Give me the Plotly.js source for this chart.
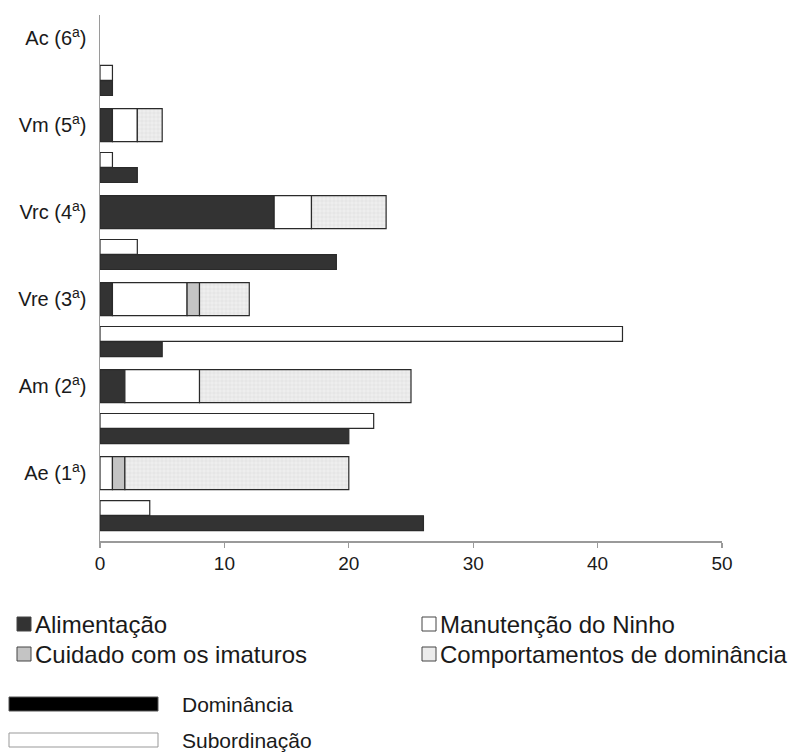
<!DOCTYPE html>
<html>
<head>
<meta charset="utf-8">
<script src="https://cdn.plot.ly/plotly-3.0.1.min.js"></script>
<style>html,body{margin:0;padding:0;background:#fff;}#chart{width:796px;height:756px;}</style>
</head>
<body>
<div id="chart"></div>
<script>
// ---- data (bottom to top) ----
var categories = ['Ae (1<sup>a</sup>)', 'Am (2<sup>a</sup>)', 'Vre (3<sup>a</sup>)', 'Vrc (4<sup>a</sup>)', 'Vm (5<sup>a</sup>)', 'Ac (6<sup>a</sup>)'];
var alimentacao    = [0, 2, 1, 14, 1, 0];
var manutencao     = [1, 6, 6, 3, 2, 0];
var cuidado        = [1, 0, 1, 0, 0, 0];
var comportamentos = [18, 17, 4, 6, 2, 0];
var dominancia     = [26, 20, 5, 19, 3, 1];
var subordinacao   = [4, 22, 42, 3, 1, 1];
var xTicks = [0, 10, 20, 30, 40, 50];
var activityNames = ['Alimentação', 'Manutenção do Ninho', 'Cuidado com os imaturos', 'Comportamentos de dominância'];
var rankNames = ['Dominância', 'Subordinação'];

// ---- geometry helpers ----
var W = 796, H = 756, L = 100, R = 74, T = 15, B = 215;
var pw = W - L - R, ph = H - T - B;
function px(x) { return (x - L) / pw; }
function py(y) { return (H - B - y) / ph; }
function hideZero(arr) { return arr.map(function (v) { return v === 0 ? null : v; }); }

var idx = categories.map(function (_, i) { return i; });
var stackY = idx.slice();
var subY = idx.map(function (i) { return i - 0.40; });
var domY = idx.map(function (i) { return i - 0.575; });

var lineC = '#2a2a2a';
var series = [alimentacao, manutencao, cuidado, comportamentos];
var fills = ['#333333', '#ffffff', '#c4c4c4', '#ececec'];
var traces = [];
var base = idx.map(function () { return 0; });
series.forEach(function (s, k) {
  var marker = { color: fills[k], line: { color: lineC, width: 1.2 } };
  if (k === 3) {
    marker.pattern = { shape: '+', size: 4, solidity: 0.15, fgcolor: '#cfcfcf', bgcolor: '#eeeeee', fillmode: 'replace' };
  }
  traces.push({
    type: 'bar', orientation: 'h', name: activityNames[k],
    y: stackY, x: hideZero(s), base: base.slice(), width: 0.38,
    marker: marker, showlegend: false, hoverinfo: 'x+name'
  });
  base = base.map(function (b, i) { return b + s[i]; });
});
traces.push({
  type: 'bar', orientation: 'h', name: rankNames[1], y: subY, x: hideZero(subordinacao), width: 0.17,
  marker: { color: '#ffffff', line: { color: lineC, width: 1.2 } }, showlegend: false
});
traces.push({
  type: 'bar', orientation: 'h', name: rankNames[0], y: domY, x: hideZero(dominancia), width: 0.17,
  marker: { color: '#333333', line: { color: lineC, width: 1.2 } }, showlegend: false
});

// ---- custom legend ----
var fontFam = 'Liberation Sans, Arial, sans-serif';
var shapes = [], annotations = [];
var legPos = [[17, 624], [422, 624], [17, 654], [422, 654]];
activityNames.forEach(function (n, k) {
  var p = legPos[k];
  shapes.push({ type: 'rect', xref: 'paper', yref: 'paper',
    x0: px(p[0]), x1: px(p[0] + 14), y0: py(p[1] + 7), y1: py(p[1] - 7),
    fillcolor: fills[k], line: { color: '#444', width: 1 } });
  annotations.push({ xref: 'paper', yref: 'paper', x: px(p[0] + 16), y: py(p[1]),
    xanchor: 'left', yanchor: 'middle', showarrow: false, text: n,
    font: { family: fontFam, size: 24, color: '#1a1a1a' } });
});
var rankPos = [[704, '#000000', '#555'], [740, '#ffffff', '#999']];
rankNames.forEach(function (n, k) {
  var p = rankPos[k];
  shapes.push({ type: 'rect', xref: 'paper', yref: 'paper',
    x0: px(9), x1: px(158), y0: py(p[0] + 7), y1: py(p[0] - 7),
    fillcolor: p[1], line: { color: p[2], width: 1 } });
  annotations.push({ xref: 'paper', yref: 'paper', x: px(180), y: py(p[0]),
    xanchor: 'left', yanchor: 'middle', showarrow: false, text: n,
    font: { family: fontFam, size: 21, color: '#1a1a1a' } });
});

var layout = {
  width: W, height: H,
  margin: { l: L, r: R, t: T, b: B },
  paper_bgcolor: '#ffffff', plot_bgcolor: '#ffffff',
  barmode: 'overlay', bargap: 0,
  font: { family: fontFam, size: 18, color: '#1a1a1a' },
  xaxis: {
    range: [0, 50], tickvals: xTicks, ticktext: xTicks.map(String),
    showgrid: false, zeroline: false, showline: true, linecolor: '#9a9a9a', linewidth: 1.5,
    ticks: 'outside', ticklen: 5, tickcolor: '#9a9a9a', tickwidth: 1.2,
    tickfont: { size: 19, color: '#1a1a1a' }, fixedrange: true
  },
  yaxis: {
    range: [-0.78, 5.265], tickvals: idx, ticktext: categories,
    showgrid: false, zeroline: false, showline: true, linecolor: '#9a9a9a', linewidth: 1.5,
    ticks: '', ticklabelstandoff: 8, tickfont: { size: 20, color: '#1a1a1a' }, fixedrange: true
  },
  shapes: shapes,
  annotations: annotations,
  showlegend: false
};

Plotly.newPlot('chart', traces, layout, { displayModeBar: false, staticPlot: true });
</script>
</body>
</html>
